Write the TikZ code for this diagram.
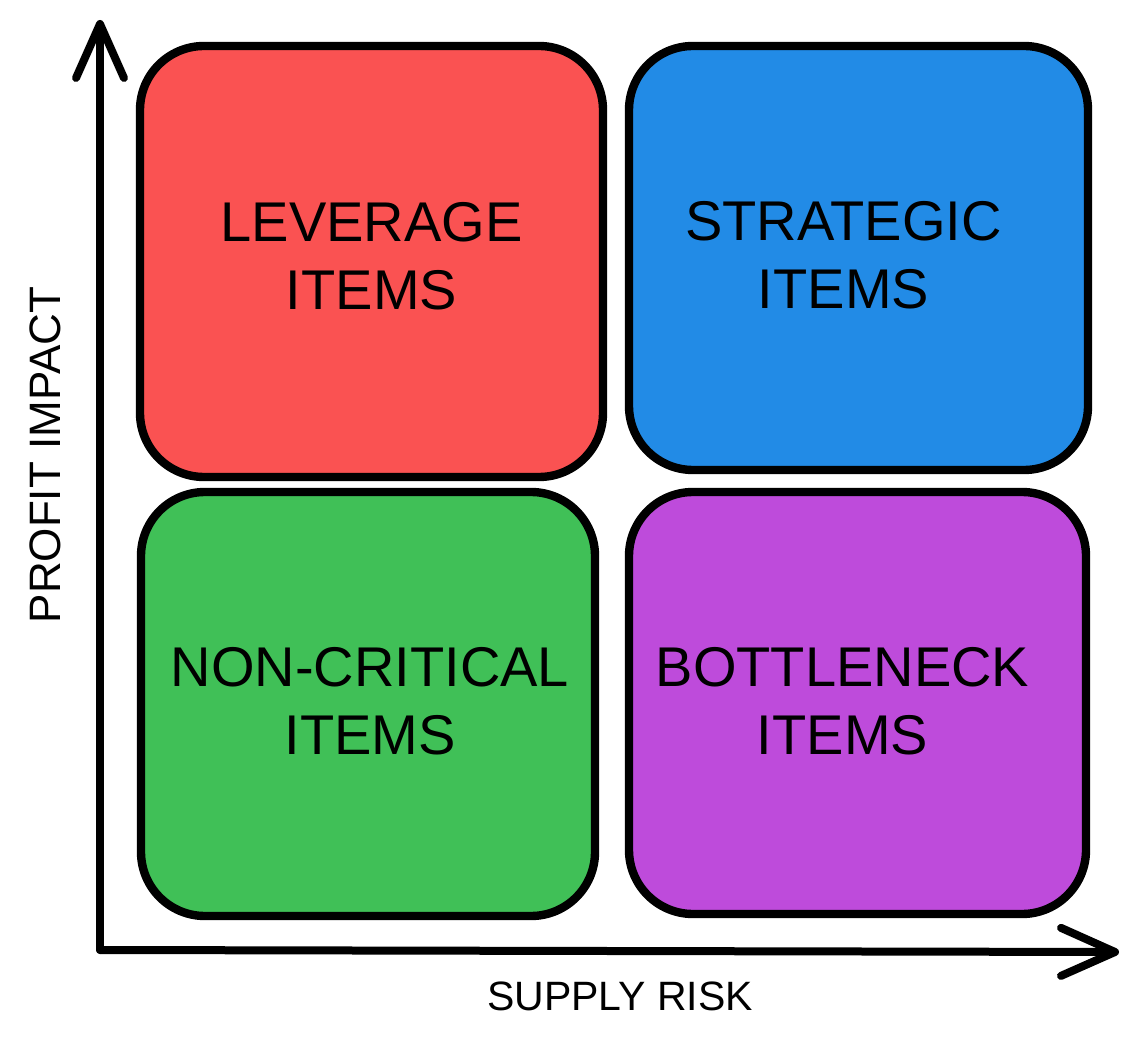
\documentclass[tikz,border=0pt]{standalone}
\usepackage{fontspec}
\setmainfont{Liberation Sans}
\usetikzlibrary{arrows.meta}

\definecolor{leverred}{HTML}{FA5252}
\definecolor{strategicblue}{HTML}{228BE6}
\definecolor{noncritgreen}{HTML}{40C057}
\definecolor{bottlepurple}{HTML}{BE4BDB}

\begin{document}
\begin{tikzpicture}[x=0.5pt, y=-0.5pt,
    quadrant/.style={draw=black, line width=4.2pt, rounded corners=32pt, inner sep=0pt},
    quadtext/.style={align=center, font=\fontsize{28}{34}\selectfont},
    axis/.style={line width=4pt, line cap=round,
        -{Straight Barb[length=27pt, width=24pt, line cap=round, line join=round]}}]
    \useasboundingbox (0,0) rectangle (1140,1042);

    % Create the four quadrants
    \node[quadrant, fill=leverred, minimum width=231.5pt, minimum height=215.5pt]
        (leverage) at (371.5,261.5) {};
    \node[quadrant, fill=strategicblue, minimum width=229.5pt, minimum height=212pt]
        (strategic) at (858.5,258) {};
    \node[quadrant, fill=noncritgreen, minimum width=227pt, minimum height=212pt]
        (noncritical) at (368,704) {};
    \node[quadrant, fill=bottlepurple, minimum width=228.5pt, minimum height=211pt]
        (bottleneck) at (857.5,703) {};

    % Put the labels inside them
    \node[quadtext] (leverage-text) at ([yshift=2.5pt]leverage.center) {LEVERAGE\\ITEMS};
    \node[quadtext] (strategic-text) at ([xshift=-7.5pt, yshift=1.5pt]strategic.center) {STRATEGIC\\ITEMS};
    \node[quadtext] (noncritical-text) at ([xshift=1pt, yshift=1.5pt]noncritical.center) {NON-CRITICAL\\ITEMS};
    \node[quadtext] (bottleneck-text) at ([xshift=-7.5pt, yshift=1pt]bottleneck.center) {BOTTLENECK\\ITEMS};

    % Draw the axes
    \coordinate (origin) at (100,950);
    \coordinate (ytop) at (100,20);
    \coordinate (xend) at (1119,952);
    \draw[axis] (origin) -- (ytop);
    \draw[axis] (origin) -- (xend);

    % Add axis labels
    \node[font=\fontsize{22}{26}\selectfont, rotate=90] (profit) at (45,455) {PROFIT IMPACT};
    \node[font=\fontsize{20.5}{24}\selectfont] (risk) at (620,996) {SUPPLY RISK};
\end{tikzpicture}
\end{document}
